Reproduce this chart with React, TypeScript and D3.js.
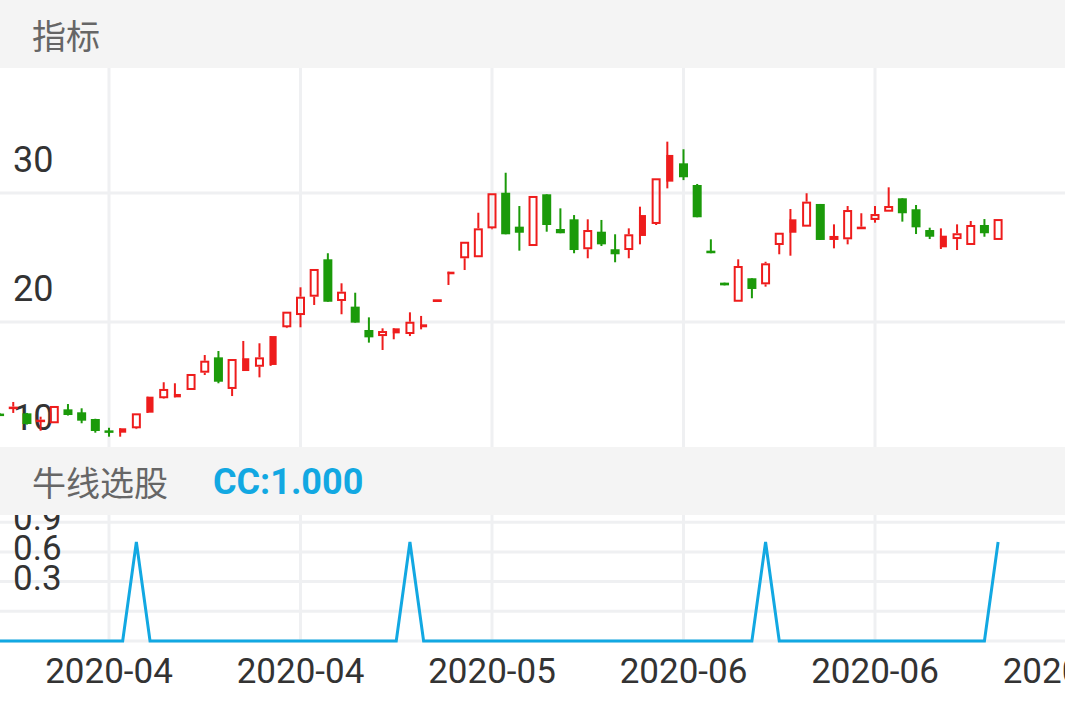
import * as d3 from "d3";
import { useEffect, useRef } from "react";

// trading days shown in the window
const dates = [
  "2020-03-24", "2020-03-25", "2020-03-26", "2020-03-27", "2020-03-30", "2020-03-31",
  "2020-04-01", "2020-04-02", "2020-04-03", "2020-04-07", "2020-04-08", "2020-04-09",
  "2020-04-10", "2020-04-13", "2020-04-14", "2020-04-15", "2020-04-16", "2020-04-17",
  "2020-04-20", "2020-04-21", "2020-04-22", "2020-04-23", "2020-04-24", "2020-04-27",
  "2020-04-28", "2020-04-29", "2020-04-30", "2020-05-06", "2020-05-07", "2020-05-08",
  "2020-05-11", "2020-05-12", "2020-05-13", "2020-05-14", "2020-05-15", "2020-05-18",
  "2020-05-19", "2020-05-20", "2020-05-21", "2020-05-22", "2020-05-25", "2020-05-26",
  "2020-05-27", "2020-05-28", "2020-05-29", "2020-06-01", "2020-06-02", "2020-06-03",
  "2020-06-04", "2020-06-05", "2020-06-08", "2020-06-09", "2020-06-10", "2020-06-11",
  "2020-06-12", "2020-06-15", "2020-06-16", "2020-06-17", "2020-06-18", "2020-06-19",
  "2020-06-22", "2020-06-23", "2020-06-24", "2020-06-29", "2020-06-30", "2020-07-01",
  "2020-07-02", "2020-07-03", "2020-07-06", "2020-07-07", "2020-07-08", "2020-07-09",
  "2020-07-10", "2020-07-13",
];

const open = [
  12.9, 13.38, 12.92, 12.38, 12.15, 13.23, 13.0, 12.48, 11.6, 11.42, 11.76, 12.97,
  14.09, 14.16, 14.73, 16.07, 17.26, 14.81, 16.2, 16.53, 16.67, 19.59, 20.54, 21.96,
  24.86, 21.63, 21.19, 19.38, 18.91, 19.12, 19.07, 19.59, 21.55, 23.7, 24.94, 25.02,
  27.26, 30.02, 27.39, 25.89, 29.9, 27.21, 27.96, 25.64, 27.0, 25.64, 25.58, 26.67,
  27.6, 30.88, 32.3, 30.62, 25.53, 23.05, 21.57, 23.39, 22.92, 25.97, 26.92, 27.39,
  29.15, 26.36, 26.41, 27.19, 27.91, 28.55, 29.59, 28.74, 27.13, 25.79, 26.43, 25.97,
  27.52, 26.36,
];
const high = [
  12.95, 13.8, 12.95, 12.66, 13.5, 13.64, 13.31, 12.5, 11.8, 11.76, 12.95, 14.21,
  15.33, 15.25, 15.97, 17.44, 17.75, 17.13, 18.53, 18.35, 18.91, 20.8, 22.69, 24.11,
  25.33, 23.0, 22.27, 20.36, 19.51, 19.51, 20.75, 20.47, 21.76, 23.9, 26.22, 28.47,
  29.98, 31.57, 28.99, 29.77, 29.9, 28.81, 28.29, 27.96, 27.91, 26.8, 27.26, 28.94,
  31.14, 33.98, 33.39, 30.7, 26.41, 23.05, 24.86, 23.39, 24.67, 26.92, 28.76, 29.98,
  29.15, 27.57, 28.99, 28.43, 28.99, 30.44, 29.59, 29.07, 27.31, 27.26, 27.57, 27.83,
  27.98, 27.98,
];
const low = [
  12.8, 12.95, 12.05, 11.57, 12.15, 12.75, 12.15, 11.42, 11.11, 11.11, 11.7, 12.95,
  14.05, 14.16, 14.73, 15.89, 15.25, 14.26, 16.2, 15.71, 16.6, 19.53, 19.59, 21.32,
  21.57, 20.6, 19.95, 18.4, 17.83, 18.66, 18.91, 19.43, 21.55, 22.87, 24.03, 25.02,
  27.19, 26.8, 25.53, 25.89, 27.0, 26.88, 25.33, 24.94, 25.89, 24.63, 24.94, 26.02,
  27.52, 30.36, 31.0, 28.12, 25.33, 22.84, 21.57, 21.84, 22.74, 25.25, 25.14, 27.39,
  26.36, 25.71, 26.02, 27.19, 27.7, 28.55, 27.78, 26.82, 26.43, 25.66, 25.58, 25.97,
  26.61, 26.36,
];
const close = [
  12.85, 13.44, 12.09, 12.43, 13.49, 12.79, 12.35, 11.55, 11.45, 11.76, 12.92, 14.21,
  14.81, 14.42, 15.97, 17.0, 15.37, 17.13, 17.19, 17.26, 18.91, 20.8, 21.96, 24.11,
  21.57, 22.35, 19.95, 18.81, 19.3, 19.51, 20.02, 19.82, 21.76, 23.9, 26.22, 27.26,
  29.98, 26.8, 26.92, 29.77, 27.52, 26.88, 25.58, 27.13, 26.02, 25.25, 26.8, 28.29,
  31.14, 32.95, 31.22, 28.12, 25.33, 22.84, 24.34, 22.56, 24.55, 26.92, 27.96, 29.33,
  26.36, 26.67, 28.68, 27.39, 28.37, 28.99, 28.43, 27.34, 26.61, 26.69, 26.88, 27.52,
  26.88, 27.98,
];
// up days the app paints as solid instead of hollow
const solidUp = [9, 11, 13, 18, 20, 29, 31, 33, 47, 49, 58, 69];

// 牛线选股 indicator
const cc = [
  0, 0, 0, 0, 0, 0, 0, 0, 0, 0, 1, 0, 0, 0, 0, 0, 0, 0, 0, 0, 0, 0, 0, 0, 0, 0, 0, 0, 0, 0,
  1, 0, 0, 0, 0, 0, 0, 0, 0, 0, 0, 0, 0, 0, 0, 0, 0, 0, 0, 0, 0, 0, 0, 0, 0, 0, 1, 0, 0, 0,
  0, 0, 0, 0, 0, 0, 0, 0, 0, 0, 0, 0, 0, 1,
];

const xTickIndex = [8, 22, 36, 50, 64, 78];
const xTickLabels = ["2020-04", "2020-04", "2020-05", "2020-06", "2020-06", "2020-07"];
const priceTicks = [10, 20, 30, 40];
const priceLabels = [10, 20, 30];
const ccTicks = [0.3, 0.6, 0.9, 1.2];
const ccLabels = [0.3, 0.6, 0.9];

const RED = "#ee1c1c";
const GREEN = "#1b9a0a";
const BLUE = "#12a8e2";
const GRID = "#eff0f2";
const HEAD = "#f4f4f4";
const NUM_FONT = "Roboto, 'Noto Sans', sans-serif";
const CJK_FONT = "'Noto Sans CJK SC', sans-serif";

const App: React.FC = () => {
  const svgRef = useRef<SVGSVGElement | null>(null);
  const width = 1065;
  const height = 708;

  useEffect(() => {
    const top = { y0: 68, y1: 447 };
    const bottom = { y0: 515, y1: 641 };

    const x = d3.scaleLinear().domain([8, 64]).range([109, 875]);
    const yPrice = d3.scaleLinear().domain([10, 30]).range([451, 193]);
    const yCC = d3.scaleLinear().domain([0, 1]).range([641, 542]);

    const svg = d3.select(svgRef.current);
    svg.selectAll("*").remove();

    const defs = svg.append("defs");
    defs
      .append("clipPath")
      .attr("id", "clip-top")
      .append("rect")
      .attr("x", 0)
      .attr("y", top.y0)
      .attr("width", width)
      .attr("height", top.y1 - top.y0);

    svg.append("rect").attr("width", width).attr("height", height).attr("fill", "#fff");

    // price pane
    const priceG = svg.append("g").attr("clip-path", "url(#clip-top)");
    priceG
      .selectAll("line.h")
      .data(priceTicks)
      .join("line")
      .attr("x1", 0)
      .attr("x2", width)
      .attr("y1", (d) => yPrice(d))
      .attr("y2", (d) => yPrice(d))
      .attr("stroke", GRID)
      .attr("stroke-width", 3);
    priceG
      .selectAll("line.v")
      .data(xTickIndex)
      .join("line")
      .attr("x1", (d) => x(d))
      .attr("x2", (d) => x(d))
      .attr("y1", top.y0)
      .attr("y2", top.y1)
      .attr("stroke", GRID)
      .attr("stroke-width", 3);
    priceG
      .selectAll("text")
      .data(priceLabels)
      .join("text")
      .attr("x", 13)
      .attr("y", (d) => yPrice(d) - 33)
      .attr("dominant-baseline", "central")
      .attr("font-family", NUM_FONT)
      .attr("font-size", 36)
      .attr("fill", "#333")
      .text((d) => d);

    const candles = priceG
      .selectAll("g.c")
      .data(dates.map((d, i) => i))
      .join("g");

    candles.each(function (i) {
      const g = d3.select(this);
      const cx = x(i);
      const o = open[i];
      const c = close[i];
      const up = c >= o;
      const yo = yPrice(o);
      const yc = yPrice(c);
      const yh = yPrice(high[i]);
      const yl = yPrice(low[i]);
      if (!up) {
        g.append("rect")
          .attr("x", cx - 1)
          .attr("y", yh)
          .attr("width", 2)
          .attr("height", Math.max(yl - yh, 1))
          .attr("fill", GREEN);
        g.append("rect")
          .attr("x", cx - 4.5)
          .attr("y", yo)
          .attr("width", 9)
          .attr("height", Math.max(yc - yo, 2.5))
          .attr("fill", GREEN);
      } else if (solidUp.includes(i)) {
        g.append("rect")
          .attr("x", cx - 3.5)
          .attr("y", yh)
          .attr("width", 2)
          .attr("height", Math.max(yl - yh, 1))
          .attr("fill", RED);
        g.append("rect")
          .attr("x", cx - 3.5)
          .attr("y", yc)
          .attr("width", 7)
          .attr("height", Math.max(yo - yc, 2.5))
          .attr("fill", RED);
      } else {
        if (yc - yh > 0.5) {
          g.append("rect")
            .attr("x", cx - 1)
            .attr("y", yh)
            .attr("width", 2)
            .attr("height", yc - yh)
            .attr("fill", RED);
        }
        if (yl - yo > 0.5) {
          g.append("rect")
            .attr("x", cx - 1)
            .attr("y", yo)
            .attr("width", 2)
            .attr("height", yl - yo)
            .attr("fill", RED);
        }
        g.append("rect")
          .attr("x", cx - 3.5)
          .attr("y", yc + 1)
          .attr("width", 7)
          .attr("height", Math.max(yo - yc - 2, 0.5))
          .attr("fill", "none")
          .attr("stroke", RED)
          .attr("stroke-width", 2);
      }
    });

    // indicator pane
    const ccG = svg.append("g");
    ccG
      .selectAll("line.h")
      .data(ccTicks)
      .join("line")
      .attr("x1", 0)
      .attr("x2", width)
      .attr("y1", (d) => yCC(d))
      .attr("y2", (d) => yCC(d))
      .attr("stroke", GRID)
      .attr("stroke-width", 3);
    ccG
      .selectAll("line.v")
      .data(xTickIndex)
      .join("line")
      .attr("x1", (d) => x(d))
      .attr("x2", (d) => x(d))
      .attr("y1", bottom.y0)
      .attr("y2", bottom.y1)
      .attr("stroke", GRID)
      .attr("stroke-width", 3);
    ccG
      .append("line")
      .attr("x1", 0)
      .attr("x2", width)
      .attr("y1", yCC(0))
      .attr("y2", yCC(0))
      .attr("stroke", GRID)
      .attr("stroke-width", 3);
    ccG
      .selectAll("text")
      .data(ccLabels)
      .join("text")
      .attr("x", 13)
      .attr("y", (d) => yCC(d) - 33)
      .attr("dominant-baseline", "central")
      .attr("font-family", NUM_FONT)
      .attr("font-size", 35)
      .attr("fill", "#333")
      .text((d) => d.toFixed(1));

    const line = d3
      .line<number>()
      .x((d, i) => x(i))
      .y((d) => yCC(d));
    ccG
      .append("path")
      .datum(cc)
      .attr("fill", "none")
      .attr("stroke", BLUE)
      .attr("stroke-width", 3)
      .attr("stroke-linejoin", "miter")
      .attr("d", line);

    // x axis labels
    svg
      .append("g")
      .selectAll("text")
      .data(xTickIndex)
      .join("text")
      .attr("x", (d) => x(d))
      .attr("y", 671)
      .attr("text-anchor", "middle")
      .attr("dominant-baseline", "central")
      .attr("font-family", NUM_FONT)
      .attr("font-size", 35)
      .attr("fill", "#333")
      .text((d, i) => xTickLabels[i]);

    // pane headers
    svg.append("rect").attr("x", 0).attr("y", 0).attr("width", width).attr("height", top.y0).attr("fill", HEAD);
    svg
      .append("text")
      .attr("x", 32)
      .attr("y", top.y0 / 2)
      .attr("dominant-baseline", "central")
      .attr("font-family", CJK_FONT)
      .attr("font-size", 34)
      .attr("fill", "#666")
      .text("指标");

    svg
      .append("rect")
      .attr("x", 0)
      .attr("y", top.y1)
      .attr("width", width)
      .attr("height", bottom.y0 - top.y1)
      .attr("fill", HEAD);
    const headY = (top.y1 + bottom.y0) / 2;
    svg
      .append("text")
      .attr("x", 32)
      .attr("y", headY)
      .attr("dominant-baseline", "central")
      .attr("font-family", CJK_FONT)
      .attr("font-size", 34)
      .attr("fill", "#666")
      .text("牛线选股");
    svg
      .append("text")
      .attr("x", 213)
      .attr("y", headY + 1)
      .attr("dominant-baseline", "central")
      .attr("font-family", NUM_FONT)
      .attr("font-weight", "bold")
      .attr("font-size", 36)
      .attr("fill", BLUE)
      .text(`CC:${cc[cc.length - 1].toFixed(3)}`);
  }, []);

  return (
    <svg
      ref={svgRef}
      width={width}
      height={height}
      style={{ position: "fixed", left: 0, top: 0, display: "block" }}
    ></svg>
  );
};

export default App;
